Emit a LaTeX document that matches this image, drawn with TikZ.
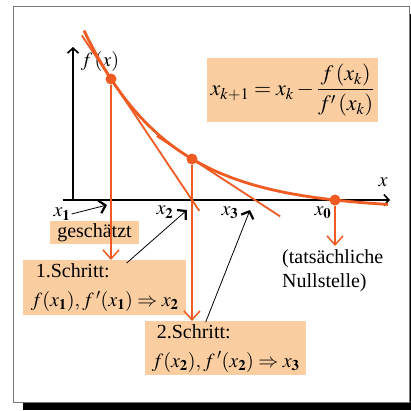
\documentclass[tikz,border=0pt]{standalone}
\usepackage{mathptmx}
\usepackage{fontspec}
\setmainfont{Liberation Serif}
\usetikzlibrary{positioning,arrows.meta,calc}
\definecolor{NewtonOrange}{RGB}{240,90,35}
\definecolor{StepPeach}{RGB}{250,206,160}
\definecolor{FrameGrey}{RGB}{120,120,120}

\begin{document}
\begin{tikzpicture}[x=1pt, y=-1pt, every node/.style={font=\fontsize{20}{24}\selectfont},
    curve/.style={NewtonOrange, line width=2.8pt},
    tangent/.style={NewtonOrange, line width=1.8pt},
    drop/.style={NewtonOrange, line width=1.2pt, -{Straight Barb[length=9pt,width=16pt,line width=1.5pt]}},
    pointer/.style={black, line width=0.8pt, -{Straight Barb[length=6pt,width=13pt,line width=2.2pt]}},
    axis/.style={line width=1.6pt, -{Straight Barb[length=5pt,width=11pt,line width=1.6pt]}},
    stepbox/.style={fill=StepPeach, align=left, inner sep=0pt, anchor=north west, font=\fontsize{20}{29}\selectfont},
    ticklab/.style={inner sep=1pt},
    dot/.style={circle, fill=NewtonOrange, inner sep=0pt, minimum size=11pt}]
  \useasboundingbox (0,0) rectangle (411,410);
  % frame with shadow
  \fill (23,14) rectangle (411,410);
  \draw[FrameGrey, fill=white, line width=0.8pt] (13,6) rectangle (409,402);
  % axes
  \draw[axis] (73,200) -- (73,47);
  \draw[axis] (63,200) -- (390,200);
  \node (fxlab) at (100,61) {$f\,(x)$};
  \node (xlab) at (383,182) {$x$};
  % function and tangents
  \draw[curve] plot[domain=84:388, samples=80] (\x, {200 - (130.5*exp(-0.0117*(\x-111)) - 9.5)});
  \coordinate (X2) at (192,200);
  \coordinate (X3) at (255,200);
  \node[dot] (P1) at (111,79) {};
  \node[dot] (P2) at (192,159) {};
  \node[dot] (X0) at (335,200) {};
  \draw[tangent] ($(P1)!-0.36!(X2)$) -- ($(P1)!1.09!(X2)$);
  \draw[tangent] ($(P2)!-0.56!(X3)$) -- ($(P2)!1.4!(X3)$);
  % labels on the x axis
  \node[ticklab] (x1lab) at (62,214) {$x_{\mathbf 1}$};
  \node[ticklab] (x2lab) at (165,212) {$x_{\mathbf 2}$};
  \node[ticklab] (x3lab) at (230,213) {$x_{\mathbf 3}$};
  \node[ticklab] (x0lab) at (323,213) {$x_{\mathbf 0}$};
  % boxes
  \node[fill=StepPeach, minimum width=171pt, minimum height=64pt, inner sep=0pt, font=\fontsize{22}{26}\selectfont] (rule) at (292.5,90)
    {$\displaystyle x_{k+1} = x_k - \frac{f\left(x_k\right)}{f'\left(x_k\right)}$};
  \node[fill=StepPeach, minimum width=89pt, minimum height=23pt, inner sep=0pt] (guess) at (94.5,232.5) {geschätzt};
  \node[stepbox, minimum width=163pt, minimum height=55pt] (box1) at (23,260)
    {\hspace*{5pt}1.Schritt:\\$f(x_{\mathbf 1}), f\,'(x_{\mathbf 1}) \Rightarrow x_{\mathbf 2}$};
  \node[stepbox, minimum width=161pt, minimum height=54pt] (box2) at (145,321)
    {\hspace*{5pt}2.Schritt:\\$f(x_{\mathbf 2}), f\,'(x_{\mathbf 2}) \Rightarrow x_{\mathbf 3}$};
  \node[align=left, anchor=north west, inner sep=0pt] (root) at (282,249) {(tatsächliche\\Nullstelle)};
  % orange drops
  \draw[drop] (P1) -- (P1 |- box1.north);
  \draw[drop] (P2) -- (P2 |- box2.north);
  \draw[drop] (X0) -- ($(X0 |- root.north)+(0,-3)$);
  % black pointers
  \coordinate (t1) at (107,205);
  \coordinate (t2) at (187,210);
  \coordinate (t3) at (250,210);
  \draw[pointer] (x1lab.east) -- (t1);
  \draw[pointer] ($(box1.north)+(22,3)$) -- (t2);
  \draw[pointer] ($(box2.north)+(-20,1)$) -- (t3);
\end{tikzpicture}
\end{document}
